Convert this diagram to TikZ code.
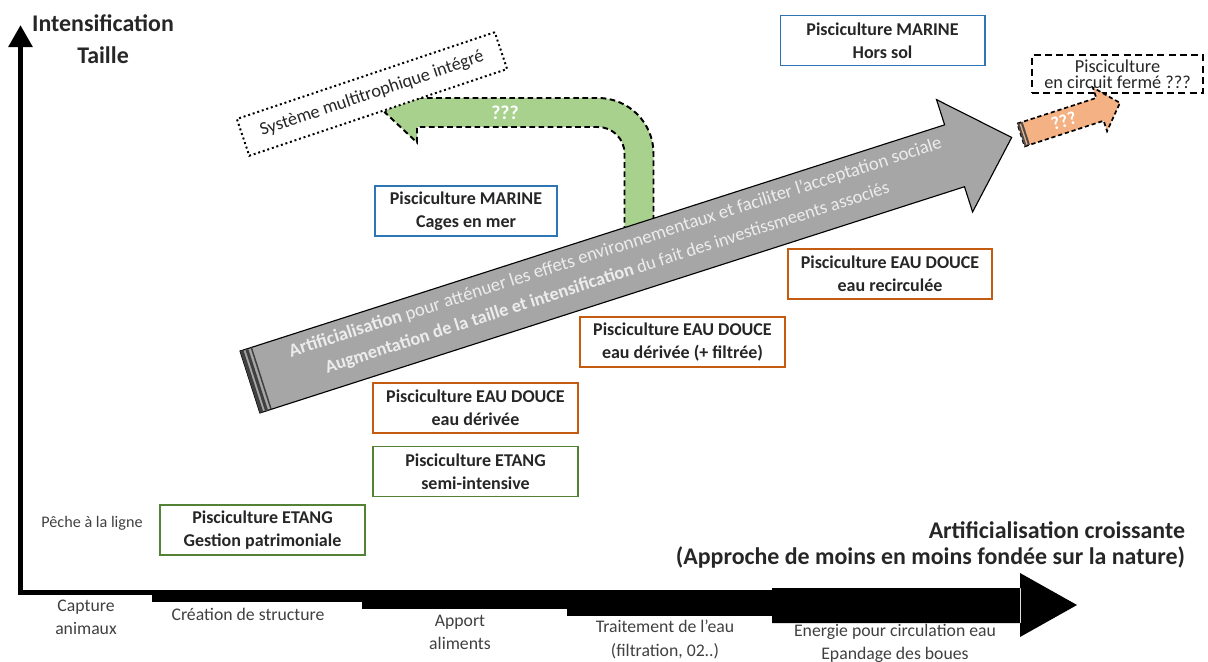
\documentclass[tikz,border=0pt]{standalone}
\usepackage{fontspec}
\setmainfont{Carlito}
\usetikzlibrary{arrows.meta, positioning, calc, shapes}
\definecolor{bleu}{RGB}{46,117,182}
\definecolor{orangeb}{RGB}{197,90,17}
\definecolor{vert}{RGB}{84,130,53}
\definecolor{vertclair}{RGB}{169,209,142}
\definecolor{saumon}{RGB}{244,177,131}
\definecolor{grisfleche}{RGB}{166,166,166}
\definecolor{texteclair}{RGB}{236,236,236}

\begin{document}
\begin{tikzpicture}[x=0.025cm,y=-0.025cm,
    boite/.style={draw,line width=1.4pt,fill=white,minimum width=5.1cm,minimum height=1.25cm,inner sep=1pt,align=center,text=black!85,font=\fontsize{12.8}{16.3}\selectfont\bfseries},
    etape/.style={align=center,text=black!75,font=\fontsize{12.6}{16.5}\selectfont},
    titre/.style={font=\fontsize{17}{18}\selectfont\bfseries,text=black!85}]
    \useasboundingbox (0,0) rectangle (1208,662);
    % axes
    \coordinate (origine) at (20.5,595);
    \coordinate (haut) at (20.5,25);
    \draw[line width=3.6pt,-{Triangle[length=0.55cm,width=0.58cm]}] (origine) -- (haut);
    \foreach \xa/\xb/\yb in {18/152/595,152/362/602,362/567/609,567/772/616}{
      \fill (\xa,590) rectangle (\xb,\yb);
    }
    \fill (772,588) rectangle (1021,623) (1020,573) -- (1077,605) -- (1020,637) -- cycle;
    \node[titre,align=center,font=\fontsize{17}{23}\selectfont\bfseries] (ordonnee) at (103,39) {Intensification\\Taille};
    \node[titre,align=right,anchor=east] (abscisse) at (1190,545) {Artificialisation croissante\\(Approche de moins en moins fondée sur la nature)};

    % fleche verte
    \draw[fill=vertclair,line width=1.4pt,dash pattern=on 4pt off 2.5pt] (653.5,230) -- (653.5,153.5) .. controls (653.5,122.8) and (628.7,98) .. (598,98) -- (417,98) -- (417,82.5) -- (385,112.5) -- (417,142.5) -- (417,127) -- (598,127) .. controls (612.6,127) and (624.5,138.9) .. (624.5,153.5) -- (624.5,230) -- cycle;
    \node[text=white,font=\fontsize{14}{14}\selectfont\bfseries] (vertq) at (505,113) {???};
    \node[draw,dotted,line width=1.4pt,fill=white,rotate=18.6,minimum width=6.8cm,minimum height=0.97cm,font=\fontsize{13}{13}\selectfont,text=black!85] (multitroph) at (372,94) {Système multitrophique intégré};

    % grande fleche grise
    \begin{scope}[shift={(250,382)},rotate=17.8]
      \draw[fill=grisfleche,line width=0.8pt] (0,-32.5) -- (740,-32.5) -- (740,-59) -- (800,0) -- (740,59) -- (740,32.5) -- (0,32.5) -- cycle;
      \foreach \xa/\xb in {0/3.5,5.5/8.5,11/12.5}{
        \fill[black!75] (\xa,-32.5) rectangle (\xb,32.5);
      }
      \node[transform shape,text=texteclair,font=\fontsize{13.3}{13}\selectfont] (ligneA) at (389,-16) {\textbf{Artificialisation} pour atténuer les effets environnementaux et faciliter l'acceptation sociale};
      \node[transform shape,text=texteclair,font=\fontsize{13}{13}\selectfont] (ligneB) at (372,10.5) {\textbf{Augmentation de la taille et intensification} du fait des investissmeents associés};
    \end{scope}

    % circuit ferme
    \node[draw,line width=1.4pt,dash pattern=on 5pt off 3pt,minimum width=4.27cm,minimum height=0.95cm,inner sep=0pt,align=center,font=\fontsize{13}{11.5}\selectfont,text=black!85] (circuit) at (1117.5,74) {Pisciculture\\en circuit fermé ???};
    \begin{scope}[shift={(1021,135)},rotate=18]
      \draw[fill=saumon,line width=1.2pt,dash pattern=on 3pt off 2pt] (0,-12) -- (83,-12) -- (83,-23) -- (104,0) -- (83,23) -- (83,12) -- (0,12) -- cycle;
      \fill[black!70] (0,-12) rectangle (2,12) (3.5,-12) rectangle (5.5,12);
      \node[transform shape,text=white,font=\fontsize{13}{13}\selectfont\bfseries] (orangeq) at (45,0) {???};
    \end{scope}

    % boites
    \node[boite,draw=bleu] (horssol) at (882.5,40.5) {Pisciculture MARINE\\Hors sol};
    \node[boite,draw=bleu,minimum width=4.55cm] (cages) at (466,211) {Pisciculture MARINE\\Cages en mer};
    \node[boite,draw=orangeb] (recircul) at (890,274) {Pisciculture EAU DOUCE\\eau recirculée};
    \node[boite,draw=orangeb] (filtree) at (682.5,342) {Pisciculture EAU DOUCE\\eau dérivée (+ filtrée)};
    \node[boite,draw=orangeb] (derivee) at (475.5,408) {Pisciculture EAU DOUCE\\eau dérivée};
    \node[boite,draw=vert] (semiint) at (475.5,471.5) {Pisciculture ETANG\\semi-intensive};
    \node[boite,draw=vert] (patrim) at (262.5,530) {Pisciculture ETANG\\Gestion patrimoniale};
    \node[etape,font=\fontsize{11.5}{14}\selectfont] (peche) at (92,523) {Pêche à la ligne};

    % etapes en bas
    \node[etape] (capture) at (86,617) {Capture\\animaux};
    \node[etape] (creation) at (248,614) {Création de structure};
    \node[etape] (apport) at (460,632) {Apport\\aliments};
    \node[etape] (traitement) at (665,639.5) {Traitement de l'eau\\(filtration, 02..)};
    \node[etape] (energie) at (895,643) {Energie pour circulation eau\\Epandage des boues};
\end{tikzpicture}
\end{document}
